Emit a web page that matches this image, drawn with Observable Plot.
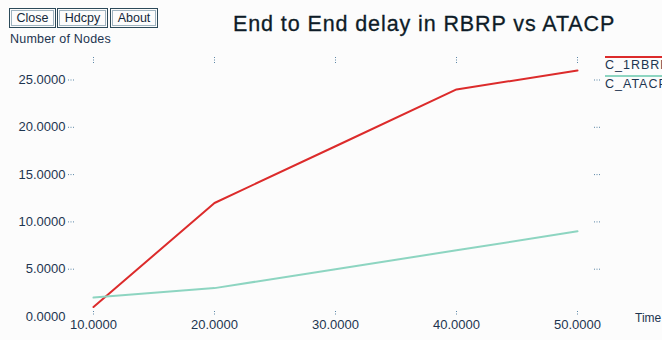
<!DOCTYPE html>
<html>
<head>
<meta charset="utf-8">
<script src="https://cdn.jsdelivr.net/npm/d3@7"></script>
<script src="https://cdn.jsdelivr.net/npm/@observablehq/plot@0.6"></script>
<style>
  html, body { margin: 0; padding: 0; background: #fcfcfc; }
  #wrap { position: relative; width: 662px; height: 340px; overflow: hidden;
          font-family: "Liberation Sans", Arial, sans-serif; color: #1d3550; }
  #wrap svg { position: absolute; left: 0; top: 0; background: transparent; }
  .btn { position: absolute; top: 8px; height: 20px; box-sizing: border-box;
         border: 1px solid #2c4a5a; box-shadow: inset 0 0 0 1px #fcfcfc, inset 0 0 0 2px #9fb3bf;
         font-size: 12.5px; line-height: 18px; text-align: center; color: #14283a; background: #fcfcfc; }
  .lbl { position: absolute; white-space: nowrap; }
  #title { left: 233px; top: 12px; font-size: 21.5px; letter-spacing: 0.9px; color: #0e1c28;
           -webkit-text-stroke: 0.3px #0e1c28; }
  .leg { position: absolute; left: 605px; width: 80px; font-size: 12.5px; letter-spacing: 1px; }
  .leg .ln { height: 0; border-top: 2px solid; margin-bottom: 0px; }
</style>
</head>
<body>
<div id="wrap">
  <div class="btn" style="left:9px;width:47px">Close</div>
  <div class="btn" style="left:57px;width:51px">Hdcpy</div>
  <div class="btn" style="left:110px;width:48px">About</div>
  <div class="lbl" id="title">End to End delay in RBRP vs ATACP</div>
  <div class="lbl" style="left:10px;top:32px;font-size:12.5px;letter-spacing:0.2px">Number of Nodes</div>
  <div class="lbl" style="left:635px;top:311px;font-size:12px">Time</div>
  <div id="legend"></div>
</div>
<script>
// Simulation time points and measured end-to-end delay per protocol
const times = [10, 20, 30, 40, 50];
const rbrp = [1, 12, 18, 24, 26];
const atacp = [2, 3, 5, 7, 9];

const seriesNames = ["C_1RBRP", "C_ATACP"];
const seriesColors = ["#dc2b2b", "#8dd5c1"];

// Axis ticks
const xTicks = [10, 20, 30, 40, 50];
const yTicks = [0, 5, 10, 15, 20, 25];
const fmt = d => d.toFixed(4);

const rows = [];
times.forEach((t, i) => {
  rows.push({time: t, value: rbrp[i], series: seriesNames[0]});
  rows.push({time: t, value: atacp[i], series: seriesNames[1]});
});

const W = 662, H = 340;
const frameL = 93, frameR = 598, frameT = 60, frameB = 316;
const dotted = {stroke: "#5a86a6", strokeDasharray: "1,1.5", strokeWidth: 1};

const chart = Plot.plot({
  width: W,
  height: H,
  marginLeft: frameL,
  marginRight: W - frameR,
  marginTop: frameT,
  marginBottom: H - frameB,
  style: {background: "transparent", fontFamily: "Liberation Sans, Arial, sans-serif"},
  x: {domain: [10, 50], range: [frameL, 577], axis: null},
  y: {domain: [0, 25], range: [frameB, 79.5], axis: null},
  color: {domain: seriesNames, range: seriesColors},
  marks: [
    // dotted tick marks around the frame
    Plot.tickY(yTicks.filter(d => d > 0), {y: d => d, ...dotted, insetLeft: -25, insetRight: frameR - 74}),
    Plot.tickY(yTicks.filter(d => d > 0), {y: d => d, ...dotted, insetLeft: frameR - frameL - 4, insetRight: -3}),
    Plot.tickX(xTicks, {x: d => d, ...dotted, insetTop: -3, insetBottom: frameB - 63}),
    Plot.tickX(xTicks, {x: d => d, ...dotted, insetTop: frameB - frameT - 5, insetBottom: 0}),
    // tick labels
    Plot.text(yTicks, {y: d => d, text: fmt, frameAnchor: "left", dx: -28, textAnchor: "end",
      fontSize: 13, fill: "#1d3550", style: "letter-spacing:0.7px"}),
    Plot.text(xTicks, {x: d => d, text: fmt, frameAnchor: "bottom", dy: 12,
      fontSize: 13, fill: "#1d3550", style: "letter-spacing:0.7px"}),
    // data series
    Plot.line(rows, {x: "time", y: "value", z: "series", stroke: "series", strokeWidth: 2}),
  ]
});
document.getElementById("wrap").prepend(chart);

// legend entries on the right edge
const legend = document.getElementById("legend");
seriesNames.forEach((name, i) => {
  const el = document.createElement("div");
  el.className = "leg";
  el.style.top = (56 + i * 19) + "px";
  el.innerHTML = `<div class="ln" style="border-color:${seriesColors[i]}"></div>${name}`;
  legend.appendChild(el);
});
</script>
</body>
</html>
